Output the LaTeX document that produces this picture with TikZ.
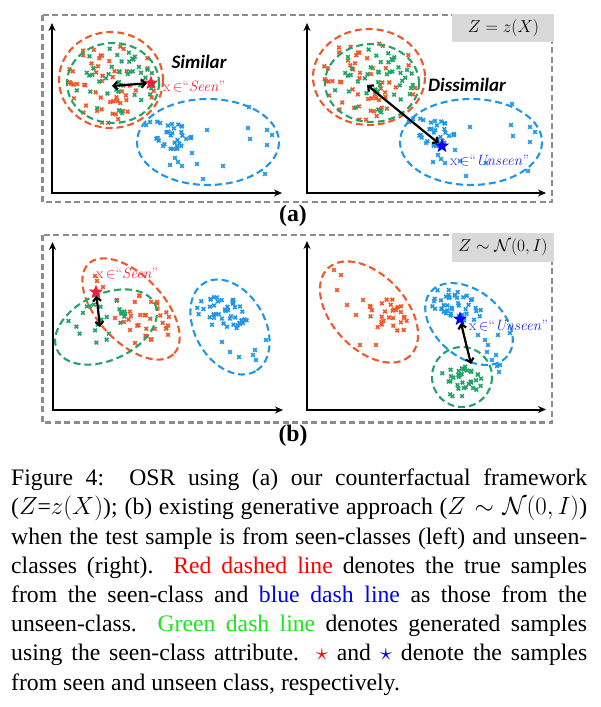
\documentclass[tikz,border=0pt]{standalone}
\usepackage{fontspec}
\usepackage{amsmath,amssymb}
\newfontfamily\capfont{Liberation Serif}
\newfontfamily\lblfont{Carlito}
\usetikzlibrary{arrows.meta,shapes.geometric,calc}
\definecolor{cR}{HTML}{F0582A}
\definecolor{cG}{HTML}{22A467}
\definecolor{cB}{HTML}{1F96E6}
\definecolor{cBox}{HTML}{8C8C8C}
\definecolor{cLbl}{HTML}{D9D9D9}
\definecolor{txR}{HTML}{F0203A}
\definecolor{txB}{HTML}{2222E8}
\definecolor{capR}{HTML}{FF0000}
\definecolor{capB}{HTML}{0000FF}
\definecolor{capG}{HTML}{1EE61E}
\tikzset{
  mk/.style={line width=1.6pt},
  dash ell/.style={line width=2.1pt, dash pattern=on 7pt off 4pt},
  gbox/.style={draw=cBox, line width=2.2pt, dash pattern=on 6pt off 3.5pt},
  glabel/.style={fill=cLbl, draw=none},
  axis/.style={line width=2pt, {Stealth[length=8pt,width=7pt]}-{Stealth[length=8pt,width=7pt]}},
  dbl/.style={line width=2.2pt, {Straight Barb[length=4pt,width=8pt]}-{Straight Barb[length=4pt,width=8pt]}},
  starR/.style={star, star points=5, star point ratio=2.4, fill=txR, minimum size=15pt, inner sep=0pt},
  starB/.style={star, star points=5, star point ratio=2.4, fill=capB, minimum size=15pt, inner sep=0pt},
  xlab/.style={anchor=west, inner sep=0pt, font=\fontsize{15}{17}\selectfont},
  simlab/.style={inner sep=0pt, font=\lblfont\bfseries\itshape\fontsize{19}{22}\selectfont},
  mathlab/.style={inner sep=0pt, font=\fontsize{19}{22}\selectfont},
  panlab/.style={inner sep=0pt, font=\capfont\bfseries\fontsize{23.7}{28}\selectfont},
  capline/.style={anchor=base west, inner sep=0pt, font=\capfont\fontsize{23.7}{29.2}\selectfont}
}
% color, cx, cy, a, b, angle, n, seed, spread
\newcommand\scat[9]{%
  \pgfmathsetseed{#8}%
  \foreach \k in {1,...,#7}{%
    \pgfmathsetmacro\scR{#9*sqrt(rnd)}%
    \pgfmathsetmacro\scT{360*rnd}%
    \pgfmathsetmacro\scU{#4*\scR*cos(\scT)}%
    \pgfmathsetmacro\scV{#5*\scR*sin(\scT)}%
    \pgfmathsetmacro\scX{#2+\scU*cos(#6)-\scV*sin(#6)}%
    \pgfmathsetmacro\scY{#3+\scU*sin(#6)+\scV*cos(#6)}%
    \draw[mk,#1] (\scX,\scY) +(-1.8,-1.8) -- +(1.8,1.8) +(-1.8,1.8) -- +(1.8,-1.8);
  }}
\newcommand\pts[2]{%
  \foreach \p in {#2}{\draw[mk,#1] (\p) +(-1.8,-1.8) -- +(1.8,1.8) +(-1.8,1.8) -- +(1.8,-1.8);}}
% color, cx, cy, a, b, angle (clockwise visually)
\newcommand\dell[6]{\draw[dash ell,#1,rotate around={-#6:(#2,#3)}] (#2,#3) ellipse [x radius=#4, y radius=#5];}
\begin{document}
\begin{tikzpicture}[x=1pt,y=-1pt]
\useasboundingbox (0,0) rectangle (601,707);
% ---------- panel (a) ----------
\draw[gbox] (42.5,15) rectangle (552,202);
\fill[glabel] (452,13.5) rectangle (553.5,42);
\node[mathlab] (lblA) at (503.5,28) {$Z=z(X)$};
\draw[axis] (52,23) -- (52,193) -- (282,193);
\draw[axis] (307,23) -- (307,193) -- (546,193);
% left (a) points
\scat{cR}{111}{80}{52}{48}{0}{55}{11}{0.92}
\scat{cG}{113}{83}{46}{40}{0}{45}{12}{0.9}
\begin{scope}
\scat{cB}{172}{134}{20}{15}{20}{32}{13}{1}
\pts{cB}{{207,130}, {248,128}, {250,139}, {267,130}, {272,135}, {267,145}, {223,166}, {265,174}, {203,179}, {197,164}, {192,153}, {249,107}, {178,162}, {175,158}, {170,165}, {182,166}, {150,122}, {146,125}}
\end{scope}
% right (a) points
\scat{cR}{369}{77}{56}{48}{0}{55}{11}{0.92}
\scat{cG}{372}{83}{47}{39}{0}{45}{12}{0.9}
\begin{scope}[shift={(263,-3)}]
\scat{cB}{172}{134}{20}{15}{20}{32}{13}{1}
\pts{cB}{{207,130}, {248,128}, {250,139}, {267,130}, {272,135}, {267,145}, {223,166}, {265,174}, {203,179}, {197,164}, {192,153}, {249,107}, {178,162}, {175,158}, {170,165}, {182,166}, {150,122}, {146,125}}
\end{scope}
% ellipses (a)
\dell{cR}{111}{80}{52}{48}{0}
\dell{cG}{113}{83}{46}{40}{0}
\dell{cB}{208}{142}{71}{43}{0}
\dell{cR}{369}{77}{56}{48}{0}
\dell{cG}{372}{83}{47}{39}{0}
\dell{cB}{471}{142}{71}{43}{0}
% stars, arrows, labels (a)
\node[starR] (sA) at (151,83) {};
\coordinate (cA) at (112,86);
\draw[dbl] (cA) -- (sA);
\node[xlab, text=txR] (tA) at (163,86) {x\,$\in$``\textit{Seen}''};
\node[simlab] (simA) at (199,62) {Similar};
\node[starB] (sB) at (442,146) {};
\coordinate (cB1) at (367,85);
\draw[dbl] (cB1) -- (sB);
\node[xlab, text=txB] (tB) at (450,161) {x\,$\in$``\textit{Unseen}''};
\node[simlab] (disA) at (467,85) {Dissimilar};
\node[panlab] (pa) at (293,216) {(a)};
% ---------- panel (b) ----------
\draw[gbox] (42.5,235) rectangle (552,422.5);
\fill[glabel] (452,233) rectangle (553.5,262);
\node[mathlab] (lblB) at (503,247.5) {$Z\sim\mathcal{N}(0,I)$};
\draw[axis] (52.5,242) -- (52.5,410) -- (283,410);
\draw[axis] (307,241) -- (307,409.5) -- (546,409.5);
% left (b) points
\scat{cR}{148}{318}{30}{20}{50}{30}{21}{1}
\pts{cR}{{95,276}, {97,281}, {103,287}, {117,300}, {121,312}, {115,318}, {124,322}, {135,343}, {130,330}}
\scat{cG}{100}{322}{36}{22}{-20}{22}{23}{1}
\scat{cB}{222}{312}{28}{16}{15}{45}{24}{1}
\pts{cB}{{255,350}, {253,355}, {256,360}, {230,352}, {239,357}, {266,340}, {222,342}, {243,323}}
% right (b) points
\scat{cR}{390}{318}{24}{18}{40}{28}{31}{1}
\pts{cR}{{334,270}, {341,275}, {337,290}, {347,305}, {363,300}, {356,315}, {376,345}, {360,345}, {370,306}}
\scat{cB}{455}{305}{28}{14}{20}{45}{32}{1}
\pts{cB}{{485,340}, {488,345}, {487,352}, {492,360}, {496,355}, {497,366}, {499,372}, {500,365}, {478,335}, {498,335}, {510,333}}
\scat{cG}{460}{383}{22}{17}{0}{35}{33}{1}
% ellipses (b)
\dell{cR}{131}{309}{62}{33}{47}
\dell{cG}{106}{327}{54}{33}{-25}
\dell{cB}{230}{327}{51}{35}{60}
\dell{cR}{369}{312}{60}{37}{47}
\dell{cB}{469}{324}{50}{33}{40}
\dell{cG}{462}{377}{30}{30}{0}
% stars, arrows, labels (b)
\node[starR] (sC) at (96,292) {};
\coordinate (cC) at (100,327);
\draw[dbl] (sC) -- (cC);
\node[xlab, text=txR] (tC) at (96,273) {x\,$\in$``\textit{Seen}''};
\node[starB] (sD) at (460,319) {};
\coordinate (cD) at (471,364);
\draw[dbl] (sD) -- (cD);
\node[xlab, text=txB] (tD) at (469,326) {x\,$\in$``\textit{Unseen}''};
\node[panlab] (pb) at (293,436) {(b)};
% ---------- caption ----------
\node[capline] (cap1) at (11,485.7) {\makebox[576pt][s]{Figure 4:\ \ OSR using (a) our counterfactual framework}};
\node[capline] (cap2) at (11,514.9) {\makebox[576pt][s]{($Z$=$z(X)$); (b) existing generative approach ($Z\sim\mathcal{N}(0,I)$)}};
\node[capline] (cap3) at (11,544.1) {\makebox[576pt][s]{when the test sample is from seen-classes (left) and unseen-}};
\node[capline] (cap4) at (11,573.3) {\makebox[576pt][s]{classes (right).\ \ {\color{capR}Red dashed line} denotes the true samples}};
\node[capline] (cap5) at (11,602.5) {\makebox[576pt][s]{from the seen-class and {\color{capB}blue dash line} as those from the}};
\node[capline] (cap6) at (11,631.7) {\makebox[576pt][s]{unseen-class.\ \ {\color{capG}Green dash line} denotes generated samples}};
\node[capline] (cap7) at (11,660.9) {\makebox[576pt][s]{using the seen-class attribute. {\color{capR}$\star$} and {\color{capB}$\star$} denote the samples}};
\node[capline] (cap8) at (11,690.1) {from seen and unseen class, respectively.};
\end{tikzpicture}
\end{document}
